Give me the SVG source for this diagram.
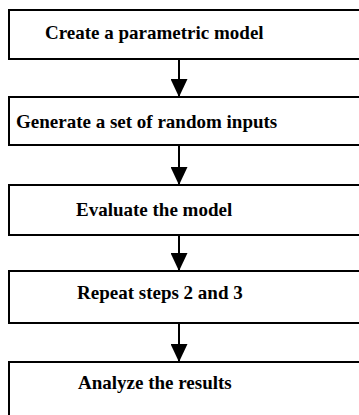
<svg xmlns="http://www.w3.org/2000/svg" width="359" height="415" viewBox="0 0 359 415">
<defs>
<style>
.box{fill:#fff;stroke:#000;stroke-width:2}
.lbl{font-family:"Liberation Serif","Times New Roman",serif;font-weight:bold;font-size:19px;fill:#000}
.conn{stroke:#000;stroke-width:2;fill:none}
</style>
<marker id="ah" viewBox="0 0 18 17" refX="18" refY="8.5" markerWidth="18" markerHeight="17" markerUnits="userSpaceOnUse" orient="auto">
<path d="M0,0 L18,8.5 L0,17 Z" fill="#000"/>
</marker>
</defs>
<rect width="359" height="415" fill="#fff"/>
<g id="connectors">
<line class="conn" x1="179" y1="59" x2="179" y2="97" marker-end="url(#ah)"/>
<line class="conn" x1="179" y1="145" x2="179" y2="185" marker-end="url(#ah)"/>
<line class="conn" x1="179" y1="235" x2="179" y2="271" marker-end="url(#ah)"/>
<line class="conn" x1="179" y1="323" x2="179" y2="362" marker-end="url(#ah)"/>
</g>
<g id="n1">
<rect class="box" x="9" y="10" width="360" height="49"/>
<text class="lbl" x="45" y="39">Create a parametric model</text>
</g>
<g id="n2">
<rect class="box" x="9" y="97" width="360" height="48"/>
<text class="lbl" x="16" y="128">Generate a set of random inputs</text>
</g>
<g id="n3">
<rect class="box" x="9" y="185" width="360" height="50"/>
<text class="lbl" x="76" y="216">Evaluate the model</text>
</g>
<g id="n4">
<rect class="box" x="9" y="271" width="360" height="52"/>
<text class="lbl" x="77" y="299">Repeat steps 2 and 3</text>
</g>
<g id="n5">
<rect class="box" x="9" y="362" width="360" height="70"/>
<text class="lbl" x="78" y="389">Analyze the results</text>
</g>
</svg>
